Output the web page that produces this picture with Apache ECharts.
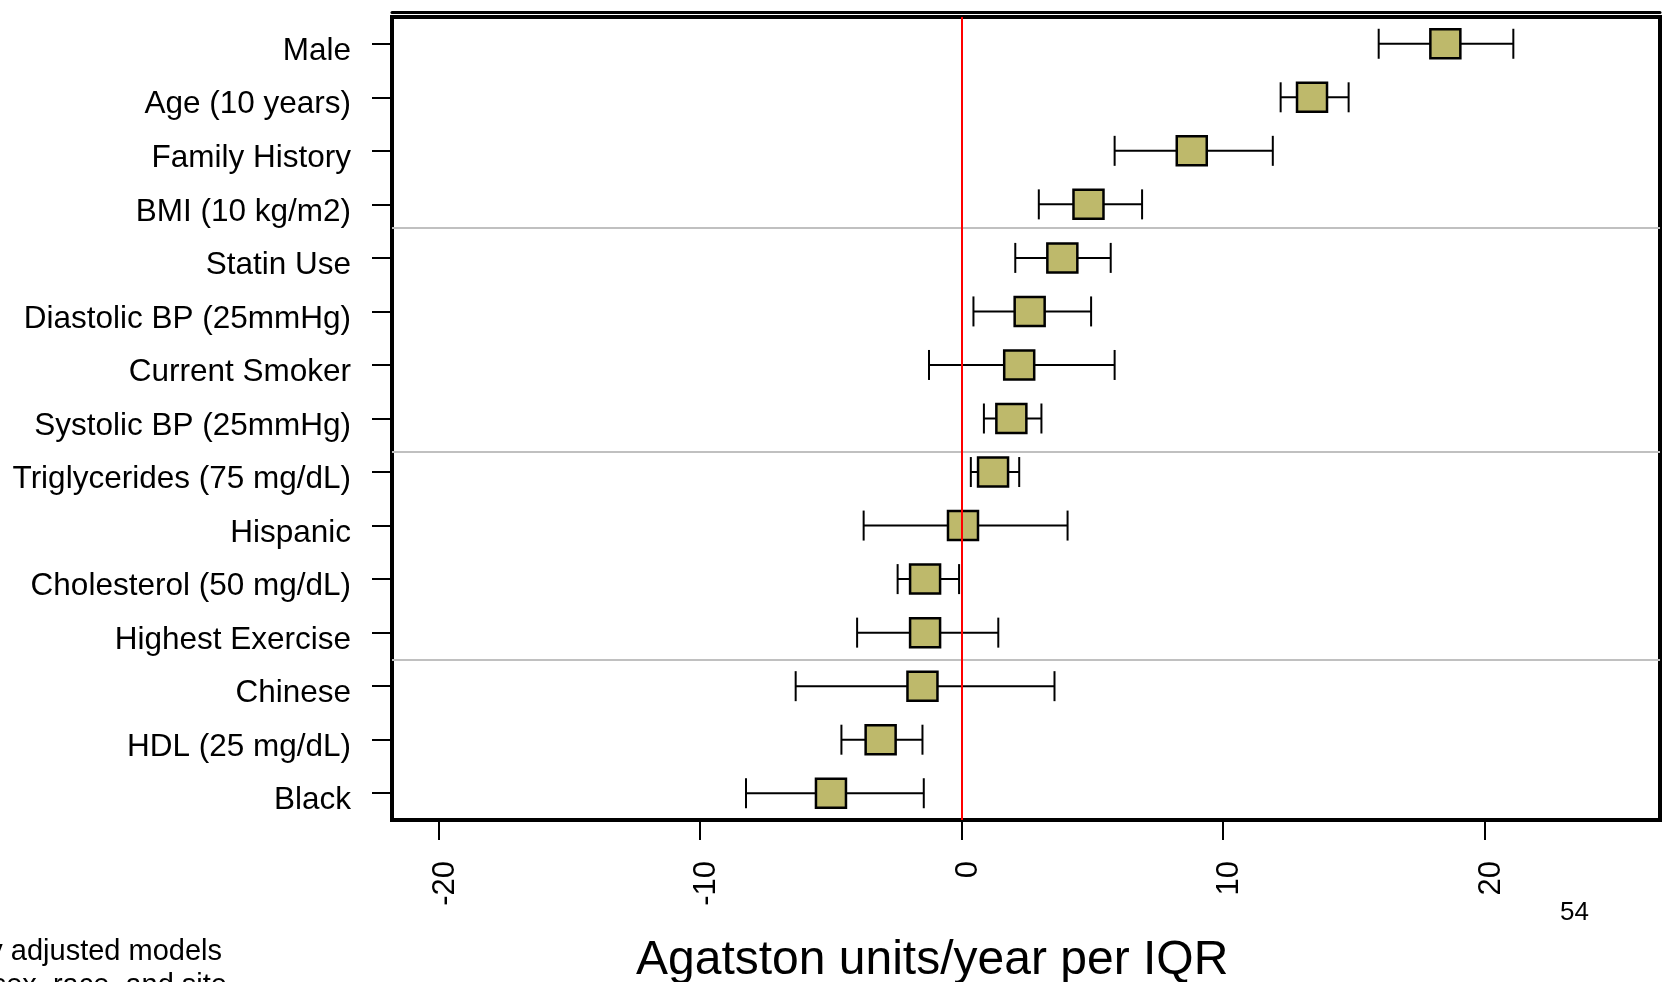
<!DOCTYPE html>
<html>
<head>
<meta charset="utf-8">
<script src="https://cdn.jsdelivr.net/npm/echarts@6/dist/echarts.min.js"></script>
<style>
html,body{margin:0;padding:0;background:#fff;}
#chart{width:1662px;height:982px;}
</style>
</head>
<body>
<div id="chart"></div>
<script>
const categories = ['Male','Age (10 years)','Family History','BMI (10 kg/m2)','Statin Use','Diastolic BP (25mmHg)','Current Smoker','Systolic BP (25mmHg)','Triglycerides (75 mg/dL)','Hispanic','Cholesterol (50 mg/dL)','Highest Exercise','Chinese','HDL (25 mg/dL)','Black'];
const estimate = [18.5, 13.4, 8.8, 4.85, 3.85, 2.6, 2.2, 1.9, 1.2, 0.05, -1.4, -1.4, -1.5, -3.1, -5.0];
const lower    = [15.95, 12.2, 5.85, 2.95, 2.05, 0.45, -1.25, 0.85, 0.35, -3.75, -2.45, -4.0, -6.35, -4.6, -8.25];
const upper    = [21.1, 14.8, 11.9, 6.9, 5.7, 4.95, 5.85, 3.05, 2.2, 4.05, -0.1, 1.4, 3.55, -1.5, -1.45];
const xTicks = [-20, -10, 0, 10, 20];
// group separators, in row units (row index, between rows)
const separators = [3.43, 7.62, 11.51];

const FONT = "'Liberation Sans', Arial, Helvetica, sans-serif";
const data = categories.map((c, i) => [i, lower[i], upper[i], estimate[i]]);

function renderItem(params, api) {
  const yi = api.value(0);
  const lo = api.coord([api.value(1), yi]);
  const hi = api.coord([api.value(2), yi]);
  const mid = api.coord([api.value(3), yi]);
  const capH = 30, bw = 30, bh = 29;
  const ls = {stroke: '#000', lineWidth: 2};
  return {
    type: 'group',
    children: [
      {type: 'line', shape: {x1: lo[0], y1: lo[1], x2: hi[0], y2: hi[1]}, style: ls},
      {type: 'line', shape: {x1: lo[0], y1: lo[1] - capH / 2, x2: lo[0], y2: lo[1] + capH / 2}, style: ls},
      {type: 'line', shape: {x1: hi[0], y1: hi[1] - capH / 2, x2: hi[0], y2: hi[1] + capH / 2}, style: ls},
      {type: 'rect', shape: {x: mid[0] - bw / 2, y: mid[1] - bh / 2, width: bw, height: bh},
       style: {fill: '#BEB96B', stroke: '#000', lineWidth: 2.5}}
    ]
  };
}

const chart = echarts.init(document.getElementById('chart'), null, {renderer: 'canvas'});
chart.setOption({
  animation: false,
  backgroundColor: '#fff',
  title: [
    {text: 'Agatston units/year per IQR', left: 636, top: 937, padding: 0,
     textStyle: {fontFamily: FONT, fontSize: 48, fontWeight: 'normal', color: '#000'}},
    {text: '54', left: 1560, top: 900, padding: 0,
     textStyle: {fontFamily: FONT, fontSize: 26, fontWeight: 'normal', color: '#000'}},
    {text: 'y adjusted models', right: 1440, top: 937, padding: 0,
     textStyle: {fontFamily: FONT, fontSize: 29, fontWeight: 'normal', color: '#000'}},
    {text: 'sex, race, and site', right: 1435, top: 971, padding: 0,
     textStyle: {fontFamily: FONT, fontSize: 29, fontWeight: 'normal', color: '#000'}}
  ],
  grid: {left: 392, right: 2, top: 17, bottom: 162, show: true, borderWidth: 4, borderColor: '#000', backgroundColor: '#fff'},
  xAxis: [{
    type: 'value', min: -21.79, max: 26.71, position: 'bottom',
    axisLine: {show: false, onZero: false},
    splitLine: {show: false},
    axisTick: {show: true, customValues: xTicks, length: 20, lineStyle: {color: '#000', width: 2}},
    axisLabel: {show: true, customValues: xTicks, rotate: 90, margin: 41,
      verticalAlign: 'top', lineHeight: 13,
      fontFamily: FONT, fontSize: 31, color: '#000'}
  }, {
    type: 'value', min: -21.79, max: 26.71, position: 'top', offset: 5,
    axisLine: {show: true, onZero: false, lineStyle: {color: '#000', width: 3}},
    axisTick: {show: false}, axisLabel: {show: false}, splitLine: {show: false}
  }],
  yAxis: [{
    type: 'category', inverse: true, data: categories, position: 'left',
    axisLine: {show: false, onZero: false},
    axisTick: {show: true, alignWithLabel: true, length: 20, lineStyle: {color: '#000', width: 2}},
    axisLabel: {margin: 41, verticalAlign: 'top', lineHeight: 15,
      fontFamily: FONT, fontSize: 31.5, color: '#000', interval: 0},
    splitLine: {show: false}
  }, {
    type: 'value', inverse: true, min: -0.5, max: categories.length - 0.5, position: 'right', show: false,
    axisLine: {show: false, onZero: false}, splitLine: {show: false}
  }],
  series: [{
    type: 'line', data: [], z: 1, silent: true, yAxisIndex: 1,
    markLine: {symbol: 'none', silent: true, label: {show: false},
      lineStyle: {color: '#C0C0C0', width: 2, type: 'solid'},
      data: separators.map(v => ({yAxis: v}))}
  }, {
    type: 'line', data: [], z: 2, silent: true, yAxisIndex: 0,
    markLine: {symbol: 'none', silent: true, label: {show: false},
      lineStyle: {color: '#FF0000', width: 2, type: 'solid'},
      data: [{xAxis: 0}]}
  }, {
    type: 'custom', renderItem: renderItem, data: data, z: 3, yAxisIndex: 0,
    encode: {y: 0, x: [1, 2, 3]}
  }]
});
</script>
</body>
</html>
